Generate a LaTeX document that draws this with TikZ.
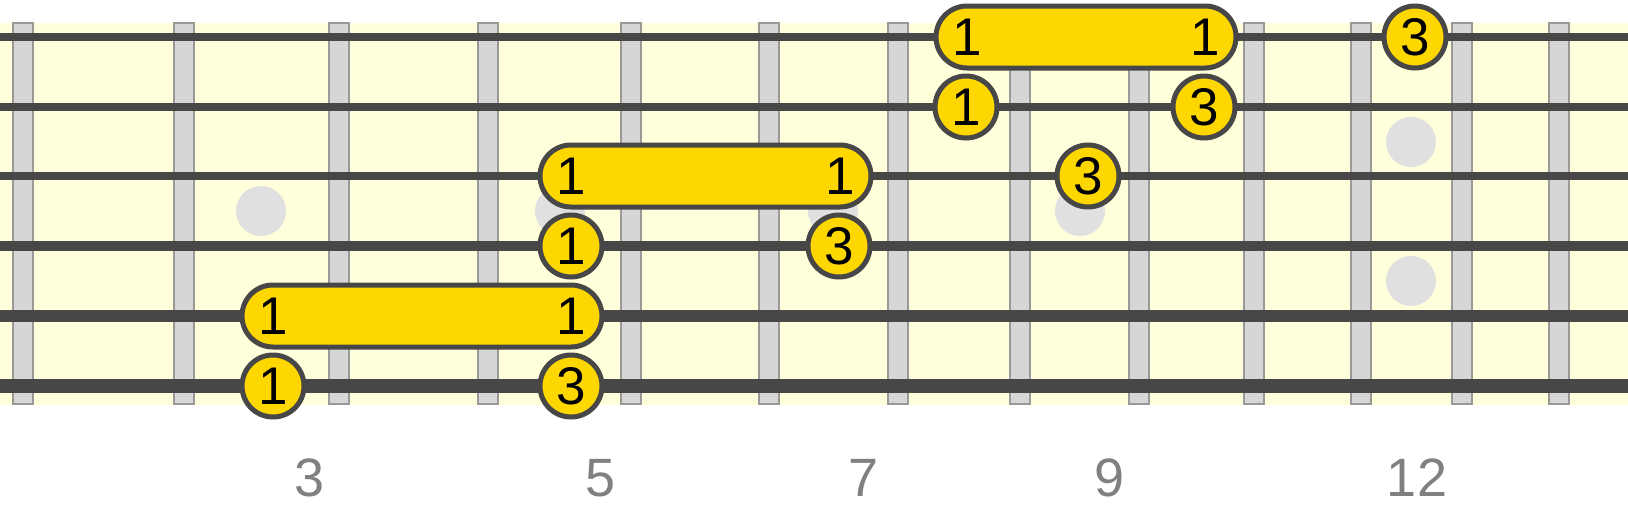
\documentclass[tikz,border=0pt]{standalone}
\usepackage{fontspec}
\setmainfont{Liberation Sans}
\usetikzlibrary{calc}
\definecolor{bgyellow}{HTML}{FFFFDC}
\definecolor{fretfill}{HTML}{D6D6D6}
\definecolor{fretline}{HTML}{999999}
\definecolor{dotgray}{HTML}{E0E0E0}
\definecolor{strcol}{HTML}{474747}
\definecolor{gold}{HTML}{FFD700}
\definecolor{labgray}{HTML}{808080}
\begin{document}
\begin{tikzpicture}[x=1pt,y=-1pt,
  fretbar/.style={fill=fretfill,draw=fretline,line width=2pt},
  inlay/.style={circle,fill=dotgray,minimum size=50pt,inner sep=0pt},
  gstring/.style={draw=strcol},
  note/.style={circle,fill=gold,draw=strcol,line width=5pt,minimum size=62pt,inner sep=0pt,font=\fontsize{53}{53}\selectfont},
  barre/.style={fill=gold,draw=strcol,line width=5pt,rounded corners=31pt},
  numtxt/.style={inner sep=0pt,font=\fontsize{53}{53}\selectfont},
  fretnum/.style={inner sep=0pt,text=labgray,font=\fontsize{54}{54}\selectfont}]
\useasboundingbox (0,0) rectangle (1628,509);
\fill[white] (0,0) rectangle (1628,509);
% fretboard
\fill[bgyellow] (0,23) rectangle (1628,405);
% frets
\foreach \fx in {23,184,339,488,631,769,898,1020,1139,1254,1361,1462,1559}
  \draw[fretbar] (\fx-10,23) rectangle (\fx+10,404);
% inlays
\node[inlay] (d3) at (261,211) {};
\node[inlay] (d5) at (560,211) {};
\node[inlay] (d7) at (833,211) {};
\node[inlay] (d9) at (1080,211) {};
\node[inlay] (d12a) at (1411,142) {};
\node[inlay] (d12b) at (1411,281) {};
% strings
\coordinate (s1l) at (0,37);  \coordinate (s1r) at (1628,37);
\coordinate (s2l) at (0,107); \coordinate (s2r) at (1628,107);
\coordinate (s3l) at (0,176); \coordinate (s3r) at (1628,176);
\coordinate (s4l) at (0,246); \coordinate (s4r) at (1628,246);
\coordinate (s5l) at (0,316); \coordinate (s5r) at (1628,316);
\coordinate (s6l) at (0,386); \coordinate (s6r) at (1628,386);
\draw[gstring,line width=7.3pt] (s1l) -- (s1r);
\draw[gstring,line width=7.3pt] (s2l) -- (s2r);
\draw[gstring,line width=8.3pt] (s3l) -- (s3r);
\draw[gstring,line width=10pt] (s4l) -- (s4r);
\draw[gstring,line width=12pt] (s5l) -- (s5r);
\draw[gstring,line width=13.3pt] (s6l) -- (s6r);
% barres
\coordinate (b5a) at (273,316); \coordinate (b5b) at (571,316);
\coordinate (b3a) at (571,176); \coordinate (b3b) at (840,176);
\coordinate (b1a) at (967,37);  \coordinate (b1b) at (1205,37);
\draw[barre] ($(b5a)+(-31,-31)$) rectangle ($(b5b)+(31,31)$);
\draw[barre] ($(b3a)+(-31,-31)$) rectangle ($(b3b)+(31,31)$);
\draw[barre] ($(b1a)+(-31,-31)$) rectangle ($(b1b)+(31,31)$);
\node[numtxt] (t5a) at (b5a) {1};
\node[numtxt] (t5b) at (b5b) {1};
\node[numtxt] (t3a) at (b3a) {1};
\node[numtxt] (t3b) at (b3b) {1};
\node[numtxt] (t1a) at (b1a) {1};
\node[numtxt] (t1b) at (b1b) {1};
% single notes
\node[note] (n61) at (273,386) {1};
\node[note] (n63) at (571,386) {3};
\node[note] (n41) at (571,246) {1};
\node[note] (n43) at (839,246) {3};
\node[note] (n33) at (1088,176) {3};
\node[note] (n21) at (966,107) {1};
\node[note] (n23) at (1204,107) {3};
\node[note] (n13) at (1415,37) {3};
% fret numbers
\node[fretnum] (f3) at (309.5,478) {3};
\node[fretnum] (f5) at (601,478) {5};
\node[fretnum] (f7) at (864,478) {7};
\node[fretnum] (f9) at (1110,478) {9};
\node[fretnum] (f12) at (1417,478) {12};
\end{tikzpicture}
\end{document}
